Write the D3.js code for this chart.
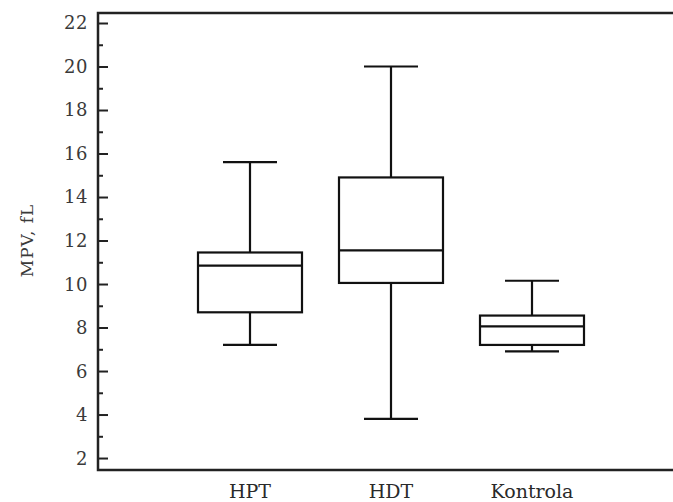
<!DOCTYPE html>
<html lang="en">
<head>
  <meta charset="UTF-8">
  <title>MPV box plot</title>
  <style>
    body { margin: 0; background: #fff; }
    svg { display: block; }
    .tick-label { font: 18px "DejaVu Serif", serif; fill: #3a3a3a; letter-spacing: 0.5px; }
    .cat-label { font: 19px "DejaVu Serif", serif; fill: #2a2a2a; }
    .box { fill: none; stroke: #111; stroke-width: 2.2px; }
  </style>
</head>
<body>
  <svg width="673" height="502"></svg>

  <script src="https://d3js.org/d3.v7.min.js"></script>
  <script>
    // data
    const categories = ["HPT", "HDT", "Kontrola"];
    const whiskerLow = [7.2, 3.8, 6.9];
    const q1 = [8.7, 10.05, 7.2];
    const median = [10.85, 11.55, 8.05];
    const q3 = [11.45, 14.9, 8.55];
    const whiskerHigh = [15.6, 20.0, 10.15];
    const yTicks = [2, 4, 6, 8, 10, 12, 14, 16, 18, 20, 22];
    const yMinor = [3, 5, 7, 9, 11, 13, 15, 17, 19, 21];

    const svg = d3.select("svg");
    const plotLeft = 98, plotTop = 13, plotBottom = 470, plotRight = 680;

    const y = d3.scaleLinear().domain([1.45, 22.46]).range([plotBottom, plotTop]);
    const x = d3.scalePoint().domain(categories).range([250, 532]);
    const boxW = 104, capW = 54;

    // frame: top, left, bottom
    svg.append("path")
      .attr("d", `M${plotRight},${plotTop} H${plotLeft} V${plotBottom} H${plotRight}`)
      .attr("fill", "none")
      .attr("stroke", "#222")
      .attr("stroke-width", 2.5);

    // y axis ticks (inward)
    const yAxis = d3.axisRight(y).tickValues(yTicks).tickSize(10).tickFormat("");
    const ga = svg.append("g").attr("transform", `translate(${plotLeft},0)`).call(yAxis);
    ga.select(".domain").remove();
    ga.selectAll("line").attr("stroke", "#222").attr("stroke-width", 2);

    const yAxisMinor = d3.axisRight(y).tickValues(yMinor).tickSize(5).tickFormat("");
    const gm = svg.append("g").attr("transform", `translate(${plotLeft},0)`).call(yAxisMinor);
    gm.select(".domain").remove();
    gm.selectAll("line").attr("stroke", "#222").attr("stroke-width", 2);

    svg.selectAll(".tick-label")
      .data(yTicks)
      .join("text")
      .attr("class", "tick-label")
      .attr("x", plotLeft - 10)
      .attr("y", d => y(d))
      .attr("dy", "0.36em")
      .attr("text-anchor", "end")
      .text(d => d);

    svg.append("text")
      .attr("class", "tick-label")
      .attr("transform", `translate(33,${(plotTop + plotBottom) / 2 - 1}) rotate(-90)`)
      .attr("text-anchor", "middle")
      .style("font-size", "17px")
      .style("letter-spacing", "1px")
      .text("MPV, fL");

    // boxes
    const g = svg.append("g");
    categories.forEach((c, i) => {
      const cx = x(c);
      // whiskers
      g.append("line").attr("class", "box")
        .attr("x1", cx).attr("x2", cx)
        .attr("y1", y(whiskerHigh[i])).attr("y2", y(q3[i]));
      g.append("line").attr("class", "box")
        .attr("x1", cx).attr("x2", cx)
        .attr("y1", y(q1[i])).attr("y2", y(whiskerLow[i]));
      g.append("line").attr("class", "box")
        .attr("x1", cx - capW / 2).attr("x2", cx + capW / 2)
        .attr("y1", y(whiskerHigh[i])).attr("y2", y(whiskerHigh[i]));
      g.append("line").attr("class", "box")
        .attr("x1", cx - capW / 2).attr("x2", cx + capW / 2)
        .attr("y1", y(whiskerLow[i])).attr("y2", y(whiskerLow[i]));
      // box
      g.append("rect").attr("class", "box")
        .attr("x", cx - boxW / 2)
        .attr("width", boxW)
        .attr("y", y(q3[i]))
        .attr("height", y(q1[i]) - y(q3[i]));
      // median
      g.append("line").attr("class", "box")
        .attr("x1", cx - boxW / 2).attr("x2", cx + boxW / 2)
        .attr("y1", y(median[i])).attr("y2", y(median[i]));
    });

    svg.selectAll(".cat-label")
      .data(categories)
      .join("text")
      .attr("class", "cat-label")
      .attr("x", d => x(d))
      .attr("y", 498)
      .attr("text-anchor", "middle")
      .text(d => d);
  </script>
</body>
</html>
